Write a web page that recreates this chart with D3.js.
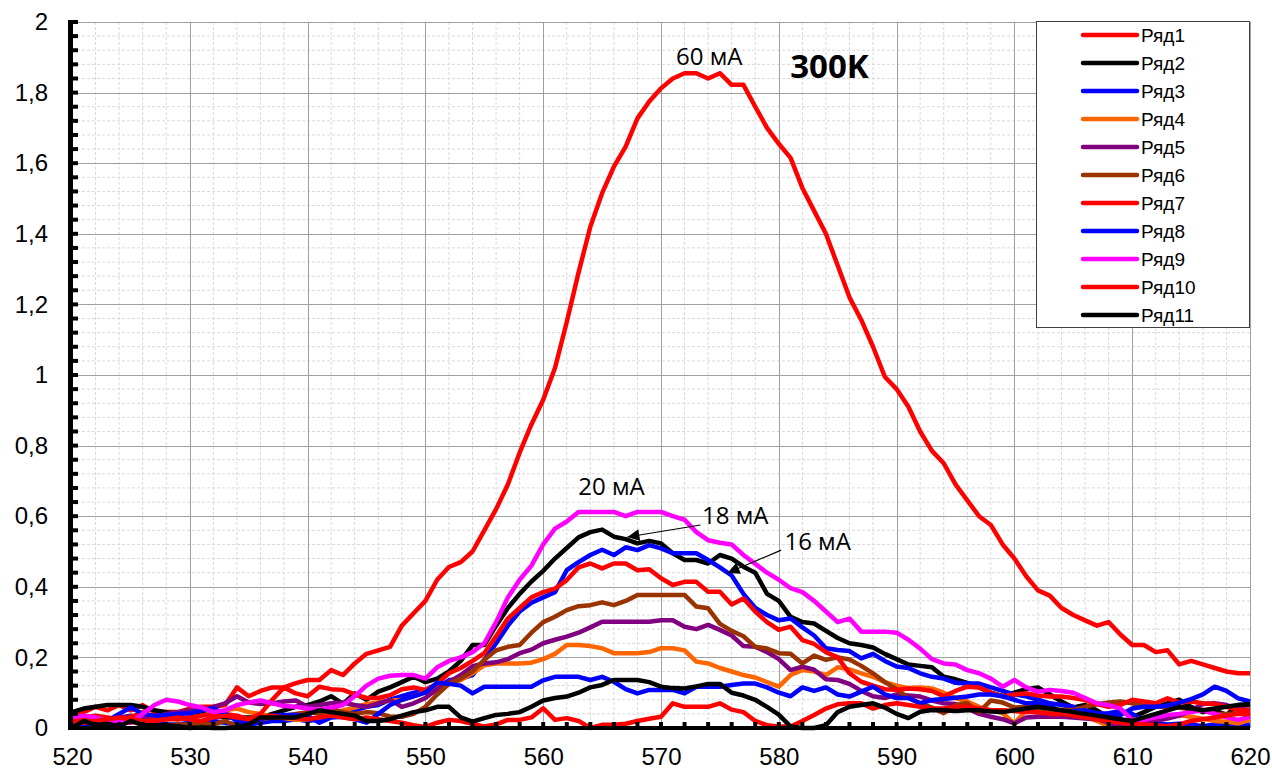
<!DOCTYPE html>
<html>
<head>
<meta charset="utf-8">
<script src="https://cdn.jsdelivr.net/npm/d3@7"></script>
<style>
  body { margin: 0; background: #fff; }
  svg { display: block; }
</style>
</head>
<body>
<div class="graph"></div>
<script>
// wavelengths, nm
const wl = [520,521,522,523,524,525,526,527,528,529,530,531,532,533,534,535,536,537,538,539,
  540,541,542,543,544,545,546,547,548,549,550,551,552,553,554,555,556,557,558,559,
  560,561,562,563,564,565,566,567,568,569,570,571,572,573,574,575,576,577,578,579,
  580,581,582,583,584,585,586,587,588,589,590,591,592,593,594,595,596,597,598,599,
  600,601,602,603,604,605,606,607,608,609,610,611,612,613,614,615,616,617,618,619,620]

const r1 = [0.035,0.045,0.06,0.05,0.065,0.05,0.065,0.045,0.045,0.045,
  0.055,0.06,0.06,0.065,0.115,0.09,0.105,0.115,0.115,0.127,
  0.136,0.136,0.164,0.15,0.183,0.21,0.22,0.23,0.29,0.325,
  0.36,0.42,0.456,0.47,0.5,0.56,0.62,0.69,0.78,0.86,
  0.93,1.02,1.15,1.29,1.42,1.515,1.59,1.647,1.727,1.775,
  1.812,1.84,1.855,1.855,1.84,1.855,1.822,1.822,1.76,1.7,
  1.655,1.615,1.53,1.465,1.4,1.31,1.22,1.156,1.08,0.995,
  0.96,0.91,0.84,0.785,0.75,0.69,0.645,0.6,0.575,0.52,
  0.48,0.43,0.39,0.375,0.34,0.32,0.305,0.29,0.3,0.265,
  0.235,0.235,0.215,0.22,0.18,0.19,0.18,0.17,0.16,0.155,0.155]

const r2 = [0.045,0.055,0.06,0.065,0.065,0.065,0.06,0.05,0.045,0.04,
  0.045,0.04,0.035,0.03,0.03,0.03,0.03,0.04,0.05,0.06,
  0.065,0.075,0.09,0.068,0.098,0.08,0.103,0.115,0.13,0.145,
  0.13,0.14,0.16,0.19,0.235,0.235,0.29,0.34,0.38,0.415,
  0.445,0.48,0.51,0.54,0.555,0.562,0.542,0.535,0.523,0.53,
  0.523,0.495,0.476,0.476,0.466,0.49,0.48,0.457,0.44,0.38,
  0.36,0.315,0.3,0.296,0.275,0.255,0.24,0.235,0.228,0.21,
  0.195,0.18,0.176,0.172,0.145,0.138,0.128,0.115,0.1,0.09,
  0.1,0.11,0.115,0.095,0.075,0.058,0.065,0.05,0.03,0.013,
  0.03,0.045,0.06,0.07,0.08,0.06,0.045,0.05,0.037,0.065,0.065]

const r3 = [0.02,0.03,0.02,0.015,0.01,0.02,0.03,0.02,0.01,0.01,
  0.015,0.02,0.02,0.015,0.01,0.01,0.015,0.02,0.02,0.025,
  0.02,0.025,0.035,0.04,0.05,0.06,0.065,0.08,0.09,0.1,
  0.105,0.115,0.135,0.14,0.15,0.193,0.24,0.29,0.33,0.355,
  0.37,0.385,0.447,0.47,0.49,0.505,0.49,0.512,0.504,0.518,
  0.509,0.495,0.495,0.495,0.476,0.455,0.432,0.38,0.34,0.32,
  0.305,0.31,0.285,0.262,0.226,0.221,0.218,0.197,0.21,0.19,
  0.174,0.17,0.155,0.145,0.14,0.128,0.126,0.126,0.115,0.105,
  0.095,0.09,0.08,0.07,0.065,0.06,0.045,0.037,0.042,0.048,
  0.04,0.02,0.015,0.01,0.012,0.01,0.005,0.01,0.012,0.005,0.01]

const r4 = [0.02,0.025,0.03,0.025,0.02,0.015,0.02,0.025,0.03,0.025,
  0.03,0.035,0.04,0.05,0.055,0.045,0.04,0.032,0.028,0.023,
  0.025,0.03,0.042,0.05,0.058,0.068,0.072,0.078,0.079,0.09,
  0.103,0.11,0.125,0.136,0.155,0.178,0.183,0.183,0.183,0.185,
  0.195,0.21,0.235,0.235,0.232,0.226,0.212,0.212,0.212,0.215,
  0.226,0.226,0.22,0.188,0.183,0.17,0.16,0.15,0.143,0.13,
  0.117,0.15,0.164,0.16,0.15,0.172,0.166,0.155,0.145,0.13,
  0.12,0.113,0.115,0.112,0.1,0.085,0.075,0.06,0.05,0.042,
  0.013,0.05,0.042,0.037,0.037,0.035,0.032,0.02,0.005,0.012,
  0.023,0.028,0.032,0.035,0.036,0.032,0.026,0.02,0.018,0.013,0.023]

const r5 = [0.03,0.025,0.02,0.02,0.03,0.035,0.03,0.03,0.04,0.045,
  0.05,0.05,0.06,0.07,0.09,0.072,0.068,0.07,0.075,0.078,
  0.06,0.065,0.07,0.072,0.065,0.06,0.07,0.08,0.06,0.07,
  0.085,0.11,0.13,0.15,0.175,0.183,0.186,0.195,0.212,0.222,
  0.24,0.25,0.259,0.27,0.285,0.301,0.301,0.301,0.301,0.301,
  0.305,0.305,0.287,0.28,0.292,0.278,0.262,0.232,0.23,0.215,
  0.195,0.164,0.174,0.165,0.138,0.136,0.125,0.105,0.09,0.085,
  0.095,0.092,0.089,0.078,0.07,0.068,0.056,0.04,0.032,0.025,
  0.013,0.03,0.032,0.032,0.032,0.03,0.027,0.025,0.015,0.005,
  0.004,0.015,0.022,0.027,0.035,0.05,0.068,0.07,0.065,0.055,0.051]

const r6 = [0.035,0.03,0.025,0.02,0.02,0.03,0.02,0.01,0.005,0.01,
  0.01,0.015,0.01,0.02,0.005,0.015,0.025,0.03,0.035,0.04,
  0.045,0.04,0.055,0.045,0.04,0.045,0.042,0.032,0.032,0.04,
  0.06,0.095,0.125,0.14,0.16,0.193,0.22,0.23,0.235,0.27,
  0.3,0.315,0.334,0.345,0.348,0.356,0.348,0.36,0.377,0.377,
  0.377,0.377,0.377,0.344,0.339,0.295,0.275,0.26,0.23,0.225,
  0.212,0.21,0.183,0.205,0.193,0.2,0.194,0.176,0.155,0.13,
  0.11,0.085,0.07,0.058,0.042,0.065,0.07,0.045,0.078,0.072,
  0.058,0.06,0.056,0.052,0.051,0.051,0.06,0.067,0.072,0.075,
  0.07,0.063,0.06,0.06,0.057,0.054,0.051,0.04,0.04,0.042,0.037]

const r7 = [0.02,0.03,0.035,0.03,0.025,0.03,0.045,0.03,0.025,0.025,
  0.03,0.035,0.04,0.04,0.035,0.025,0.04,0.08,0.115,0.098,
  0.09,0.117,0.11,0.108,0.095,0.085,0.085,0.093,0.11,0.115,
  0.108,0.125,0.155,0.17,0.19,0.212,0.26,0.31,0.34,0.37,
  0.385,0.395,0.419,0.455,0.466,0.452,0.466,0.466,0.447,0.45,
  0.424,0.405,0.414,0.414,0.386,0.386,0.35,0.367,0.33,0.3,
  0.278,0.287,0.249,0.238,0.215,0.2,0.155,0.131,0.12,0.11,
  0.108,0.112,0.11,0.105,0.09,0.105,0.117,0.115,0.1,0.09,
  0.095,0.098,0.092,0.089,0.089,0.085,0.079,0.068,0.06,0.065,
  0.08,0.075,0.07,0.084,0.072,0.075,0.07,0.068,0.06,0.051,0.051]

const r8 = [0.01,0.005,0.01,0.02,0.04,0.058,0.04,0.035,0.037,0.04,
  0.042,0.05,0.055,0.04,0.02,0.015,0.025,0.035,0.037,0.037,
  0.035,0.015,0.03,0.032,0.025,0.015,0.04,0.065,0.08,0.09,
  0.1,0.128,0.125,0.12,0.098,0.117,0.117,0.117,0.117,0.117,
  0.135,0.145,0.145,0.145,0.136,0.145,0.131,0.11,0.098,0.108,
  0.108,0.108,0.098,0.117,0.117,0.117,0.122,0.126,0.126,0.115,
  0.1,0.09,0.115,0.105,0.115,0.095,0.089,0.103,0.117,0.095,
  0.085,0.085,0.07,0.079,0.082,0.086,0.089,0.095,0.095,0.09,
  0.08,0.07,0.07,0.065,0.042,0.048,0.05,0.042,0.04,0.037,
  0.055,0.06,0.06,0.064,0.072,0.082,0.095,0.117,0.105,0.084,0.075]

const r9 = [0.03,0.035,0.03,0.02,0.02,0.015,0.04,0.065,0.08,0.075,
  0.065,0.058,0.045,0.05,0.065,0.072,0.078,0.07,0.062,0.06,
  0.055,0.052,0.058,0.065,0.09,0.12,0.14,0.148,0.15,0.15,
  0.14,0.172,0.19,0.2,0.215,0.24,0.3,0.37,0.42,0.46,
  0.52,0.565,0.585,0.612,0.612,0.612,0.612,0.6,0.612,0.612,
  0.612,0.6,0.59,0.555,0.532,0.525,0.52,0.49,0.465,0.44,
  0.42,0.396,0.385,0.36,0.33,0.3,0.31,0.273,0.273,0.273,
  0.27,0.25,0.225,0.195,0.183,0.18,0.164,0.155,0.14,0.117,
  0.136,0.115,0.103,0.108,0.105,0.1,0.085,0.07,0.065,0.055,
  0.023,0.023,0.03,0.037,0.04,0.045,0.05,0.04,0.03,0.023,0.032]

const r10 = [0.02,0.015,0.02,0.025,0.03,0.025,0.02,0.02,0.025,0.03,
  0.025,0.02,0.03,0.035,0.03,0.025,0.03,0.035,0.03,0.028,
  0.025,0.03,0.035,0.03,0.025,0.03,0.025,0.02,0.015,0.008,
  0.003,0.015,0.023,0.02,0.012,0.004,0.01,0.023,0.023,0.03,
  0.056,0.023,0.028,0.02,0,0.009,0.009,0.012,0.02,0.026,
  0.032,0.07,0.06,0.06,0.06,0.07,0.052,0.045,0.02,0.008,
  0.004,0.004,0.02,0.037,0.055,0.067,0.07,0.07,0.055,0.065,
  0.07,0.065,0.06,0.055,0.055,0.06,0.06,0.055,0.05,0.05,
  0.048,0.045,0.045,0.04,0.04,0.035,0.03,0.025,0.02,0.015,
  0.012,0.01,0.008,0.005,0.01,0.02,0.025,0.03,0.035,0.04,0.04]

const r11 = [0,0.02,0.008,0.012,0.005,0.02,0.008,0.008,0.008,0.005,
  0,0.002,0,0,0.002,0.01,0.03,0.03,0.03,0.03,
  0.04,0.05,0.045,0.04,0.035,0.02,0.02,0.025,0.035,0.045,
  0.05,0.06,0.06,0.03,0.018,0.028,0.037,0.04,0.045,0.06,
  0.078,0.085,0.089,0.1,0.115,0.122,0.136,0.136,0.136,0.13,
  0.117,0.113,0.112,0.118,0.125,0.125,0.1,0.092,0.08,0.06,
  0.038,0.004,0,0,0.008,0.045,0.06,0.065,0.07,0.058,
  0.04,0.028,0.046,0.051,0.05,0.048,0.05,0.05,0.047,0.045,
  0.05,0.055,0.06,0.055,0.05,0.045,0.04,0.035,0.03,0.025,
  0.02,0.03,0.04,0.05,0.06,0.055,0.05,0.055,0.06,0.065,0.068]

const seriesNames = ['Ряд1','Ряд2','Ряд3','Ряд4','Ряд5','Ряд6','Ряд7','Ряд8','Ряд9','Ряд10','Ряд11']
const seriesValues = [r1,r2,r3,r4,r5,r6,r7,r8,r9,r10,r11]
const seriesColors = ['#ff0000','#000000','#0000ff','#ff6600','#800080','#993300','#ff0000','#0000ff','#ff00ff','#ff0000','#000000']

const xTicks = [520,530,540,550,560,570,580,590,600,610,620]
const yTicks = [0,0.2,0.4,0.6,0.8,1,1.2,1.4,1.6,1.8,2]

// text notes: [label, nm, value, size, weight]
const notes = [
  ['60 мА', 574.1, 1.878, 24, 'normal'],
  ['300K', 584.3, 1.841, 33, 'bold'],
  ['20 мА', 565.8, 0.66, 24, 'normal'],
  ['18 мА', 576.3, 0.578, 24, 'normal'],
  ['16 мА', 583.3, 0.504, 24, 'normal']
]
// arrows: [from nm, from val, to nm, to val]
const arrows = [
  [573.35, 0.575, 567.15, 0.541],
  [580.2, 0.504, 575.65, 0.439]
]

const W = 1272, H = 771
const L = 72, R = 1250, T = 22, B = 728

let svg = d3.select('.graph')
  .append('svg')
  .attr('width', W)
  .attr('height', H)

let x = d3.scaleLinear().domain([520, 620]).range([L, R])
let y = d3.scaleLinear().domain([0, 2]).range([B, T])

//minor grid
svg.append('g')
  .selectAll('line')
  .data(d3.range(522, 620, 2).filter(d => d % 10 != 0))
  .enter().append('line')
  .attr('x1', d => x(d)).attr('x2', d => x(d))
  .attr('y1', T).attr('y2', B)
  .attr('stroke', '#d9d9d9').attr('stroke-dasharray', '3,2')
svg.append('g')
  .selectAll('line')
  .data(d3.range(1, 50).map(i => i * 0.04).filter((d, i) => (i + 1) % 5 != 0))
  .enter().append('line')
  .attr('y1', d => y(d)).attr('y2', d => y(d))
  .attr('x1', L).attr('x2', R)
  .attr('stroke', '#d9d9d9').attr('stroke-dasharray', '3,2')

//major grid
svg.append('g')
  .selectAll('line')
  .data(xTicks.slice(1))
  .enter().append('line')
  .attr('x1', d => Math.round(x(d)) + 0.5).attr('x2', d => Math.round(x(d)) + 0.5)
  .attr('y1', T).attr('y2', B)
  .attr('stroke', '#a0a0a0')
svg.append('g')
  .selectAll('line')
  .data(yTicks.slice(1))
  .enter().append('line')
  .attr('y1', d => Math.round(y(d)) + 0.5).attr('y2', d => Math.round(y(d)) + 0.5)
  .attr('x1', L).attr('x2', R)
  .attr('stroke', '#a0a0a0')

//axes
let xAxis = d3.axisBottom(x).tickValues(xTicks).tickSize(0).tickPadding(20).tickFormat(d => d)
let yAxis = d3.axisLeft(y).tickValues(yTicks).tickSize(0).tickPadding(24)
  .tickFormat(d => String(d).replace('.', ','))

let gx = svg.append('g').attr('transform', `translate(0,${B})`).call(xAxis)
gx.select('.domain').remove()
gx.selectAll('text').attr('font-family', 'Liberation Sans, Arial').attr('font-size', 24).attr('fill', '#000')

let gy = svg.append('g').attr('transform', `translate(${L},0)`).call(yAxis)
gy.select('.domain').remove()
gy.selectAll('text').attr('font-family', 'Liberation Sans, Arial').attr('font-size', 24).attr('fill', '#000')

//lines
let line = d3.line()
  .x((d, i) => x(wl[i]))
  .y(d => y(d))

svg.append('g')
  .selectAll('path')
  .data(seriesValues)
  .enter().append('path')
  .attr('d', d => line(d))
  .attr('fill', 'none')
  .attr('stroke', (d, i) => seriesColors[i])
  .attr('stroke-width', 4.5)
  .attr('stroke-linejoin', 'round')

//axis lines with small ticks
svg.append('rect').attr('x', 68).attr('y', y(2) - 2).attr('width', 5).attr('height', B - T + 4).attr('fill', '#000')
svg.append('g')
  .selectAll('rect')
  .data(d3.range(0, 51).map(i => i * 0.04))
  .enter().append('rect')
  .attr('x', 72).attr('y', d => y(d) - 2)
  .attr('width', 6).attr('height', 4).attr('fill', '#000')
svg.append('rect').attr('x', 68).attr('y', B - 2).attr('width', R - 68).attr('height', 4).attr('fill', '#000')
svg.append('g')
  .selectAll('rect')
  .data(d3.range(522, 620, 2))
  .enter().append('rect')
  .attr('x', d => x(d) - 2).attr('y', B - 6)
  .attr('width', 4).attr('height', 4).attr('fill', '#000')

//notes
svg.append('g')
  .selectAll('text')
  .data(notes)
  .enter().append('text')
  .attr('x', d => x(d[1])).attr('y', d => y(d[2]))
  .attr('text-anchor', 'middle')
  .attr('font-family', 'Open Sans, sans-serif')
  .attr('font-size', d => d[3])
  .attr('font-weight', d => d[4])
  .text(d => d[0])

svg.append('defs').append('marker')
  .attr('id', 'ah')
  .attr('viewBox', '0 0 10 10')
  .attr('refX', 10).attr('refY', 5)
  .attr('markerWidth', 14).attr('markerHeight', 12)
  .attr('markerUnits', 'userSpaceOnUse')
  .attr('orient', 'auto')
  .append('path').attr('d', 'M0,0 L10,5 L0,10 Z').attr('fill', '#000')

svg.append('g')
  .selectAll('line')
  .data(arrows)
  .enter().append('line')
  .attr('x1', d => x(d[0])).attr('y1', d => y(d[1]))
  .attr('x2', d => x(d[2])).attr('y2', d => y(d[3]))
  .attr('stroke', '#000').attr('stroke-width', 1.2)
  .attr('marker-end', 'url(#ah)')

//legend
let lg = svg.append('g')
lg.append('rect')
  .attr('x', 1036.5).attr('y', 21.5).attr('width', 213).attr('height', 306)
  .attr('fill', '#fff').attr('stroke', '#404040')
let items = lg.selectAll('g.item')
  .data(seriesNames)
  .enter().append('g')
  .attr('transform', (d, i) => `translate(0,${35 + i * 28})`)
items.append('line')
  .attr('x1', 1083).attr('x2', 1137)
  .attr('stroke', (d, i) => seriesColors[i])
  .attr('stroke-width', 4.5).attr('stroke-linecap', 'round')
items.append('text')
  .attr('x', 1141).attr('y', 7)
  .attr('font-family', 'Liberation Sans, Arial').attr('font-size', 19)
  .text(d => d)
</script>
</body>
</html>
